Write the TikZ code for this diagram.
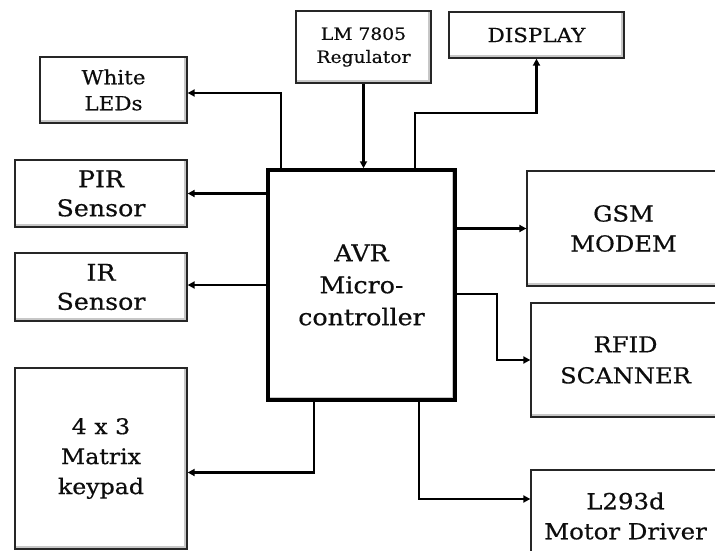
\documentclass[tikz,border=0pt]{standalone}
\usepackage{fontspec}
\setmainfont[FakeStretch=1.1,FakeBold=0.5]{DejaVu Serif}
\usetikzlibrary{arrows.meta}
\tikzset{
  box/.style={draw=black!85, line width=1.3pt, fill=white, align=center, inner sep=0pt, text=black!95,
    path picture={\draw[black!22,line width=2.5pt]
      ([xshift=-1.6pt,yshift=-1pt]path picture bounding box.north east) --
      ([xshift=-1.6pt,yshift=1.6pt]path picture bounding box.south east) --
      ([xshift=1pt,yshift=1.6pt]path picture bounding box.south west);}},
  arr/.style={line width=2.2pt, -{Triangle[length=7pt,width=7pt]}, line join=miter},
}
\begin{document}
\begin{tikzpicture}[x=1pt,y=-1pt]
\path[use as bounding box, fill=white] (0,0) rectangle (715,551);
\begin{scope}
\clip (0,0) rectangle (715,551);
\node[box, minimum width=147pt, minimum height=66pt, font=\fontsize{19.5}{26}\selectfont] (leds) at (113.5,90) {White\\LEDs};
\node[box, minimum width=172pt, minimum height=67pt, font=\fontsize{23}{29}\selectfont] (pir) at (101,193.5) {PIR\\Sensor};
\node[box, minimum width=172pt, minimum height=68pt, font=\fontsize{23}{29}\selectfont] (ir) at (101,287) {IR\\Sensor};
\node[box, minimum width=172pt, minimum height=181pt, font=\fontsize{21.5}{30}\selectfont] (keypad) at (101,458.5) {4 x 3\\Matrix\\keypad};
\node[box, minimum width=135pt, minimum height=72pt, font=\fontsize{17}{23}\selectfont] (lm) at (363.5,47) {LM 7805\\Regulator};
\node[box, minimum width=175pt, minimum height=46pt, font=\fontsize{19.5}{25}\selectfont] (disp) at (536.5,35) {DISPLAY};
\node[box, draw=black, line width=3.5pt, minimum width=187pt, minimum height=230pt, font=\fontsize{23}{32}\selectfont] (avr) at (361.5,285) {AVR\\Micro-\\controller};
\node[box, minimum width=193pt, minimum height=115pt, font=\fontsize{22}{30}\selectfont] (gsm) at (623.5,228.5) {GSM\\MODEM};
\node[box, minimum width=189pt, minimum height=114pt, font=\fontsize{22}{31}\selectfont] (rfid) at (625.5,360) {RFID\\SCANNER};
\node[box, minimum width=189pt, minimum height=92pt, font=\fontsize{22.2}{30}\selectfont] (l293) at (625.5,516) {L293d\\Motor Driver};

\draw[arr] ([xshift=15pt]avr.north west) |- ([yshift=-3pt]leds.east);
\draw[arr] (avr.west |- pir.east) -- (pir.east);
\draw[arr] ([yshift=2pt]avr.west |- ir.east) -- ([yshift=2pt]ir.east);
\draw[arr] ([xshift=48pt]avr.south west) |- ([yshift=-14pt]keypad.east);
\draw[arr] (lm.south) -- (lm.south |- avr.north);
\draw[arr] ([xshift=149pt]avr.north west) -- ++(0,-55) -| (disp.south);
\draw[arr] (avr.east |- gsm.west) -- (gsm.west);
\draw[arr] ([yshift=-9pt]avr.east) -- ++(40,0) |- (rfid.west);
\draw[arr] ([xshift=-38pt]avr.south east) |- ([yshift=17pt]l293.west);
\end{scope}
\end{tikzpicture}
\end{document}
